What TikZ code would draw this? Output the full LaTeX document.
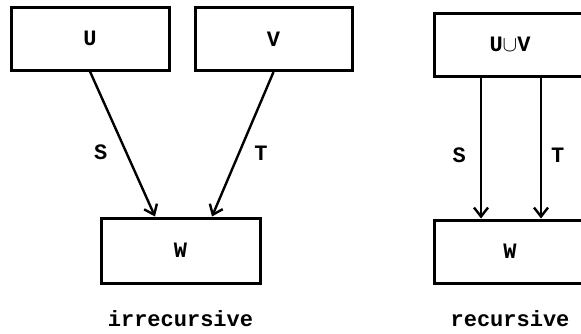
\documentclass[tikz,border=0pt]{standalone}
\usepackage{amsmath}
\usepackage{amssymb}
\usepackage{fontspec}
\setmonofont{Liberation Mono}
\usepackage{tikz}
\usetikzlibrary{arrows.meta,positioning}

\begin{document}
\begin{tikzpicture}[->,>={Straight Barb[length=4.5pt,width=7pt]},x=0.5pt,y=-0.5pt,
                    line width=1.2pt,font=\fontsize{11}{12}\ttfamily\bfseries]
          \tikzstyle{box}=[draw,line width=1.5pt,rectangle,minimum height=31.5pt]
          \tikzstyle{lbl}=[inner sep=0pt]

          \useasboundingbox (0,0) rectangle (581,333);

          % irrecursive
          \node[box,minimum width=79pt]   (U) at (90,38.5)   {U};
          \node[box,minimum width=78.5pt] (V) at (273.5,39)  {V};
          \node[box,minimum width=79.5pt,minimum height=32.5pt] (W) at (180.5,250.5) {W};
          \node (irr) [below=9pt of W] {irrecursive};

          \draw (U.south) -- node[lbl,pos=.56,left=9pt] {S} ([xshift=-12.75pt]W.north);
          \draw (V.south) -- node[lbl,pos=.56,right=7pt] {T} ([xshift=15.75pt]W.north);

          % recursive
          \node[box,minimum width=76pt] (UV) at (510,44.5)  {U$\cup$V};
          \node[box,minimum width=76pt] (W2) at (510,251.5) {W};
          \node (rec) [below=9pt of W2] {recursive};

          \draw ([xshift=-14.5pt]UV.south) -- node[lbl,pos=.55,left=7pt] {S} ([xshift=-14.5pt]W2.north);
          \draw ([xshift=15.5pt]UV.south) -- node[lbl,pos=.55,right=4.5pt] {T} ([xshift=15.5pt]W2.north);

\end{tikzpicture}
\end{document}
